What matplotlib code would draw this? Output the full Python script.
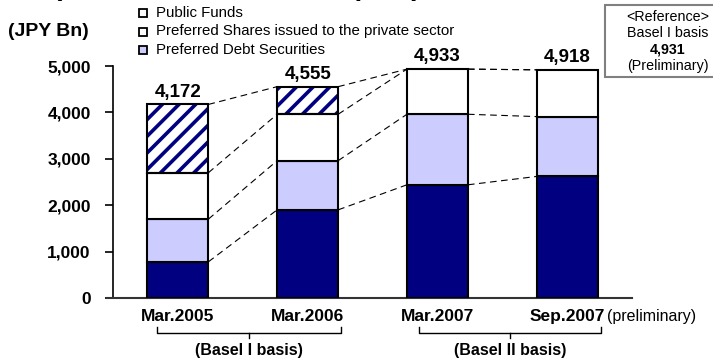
import matplotlib.pyplot as plt
import matplotlib.patches as mpatches
import numpy as np

plt.rcParams['font.family'] = ['Liberation Sans', 'DejaVu Sans']
plt.rcParams['hatch.linewidth'] = 2.6

# capital components, JPY Bn
periods = ['Mar.2005', 'Mar.2006', 'Mar.2007', 'Sep.2007']
common = [780, 1900, 2440, 2620]
pref_debt = [920, 1060, 1520, 1290]
pref_private = [1000, 1000, 973, 1008]
public_funds = [1472, 595, 0, 0]
totals = [4172, 4555, 4933, 4918]

navy = '#000080'
lavender = '#ccccff'

fig = plt.figure(figsize=(7.13, 3.58), dpi=100)
ax = fig.add_axes([0.1585, 0.1676, 0.728, 0.648])

x = np.arange(len(periods))
w = 0.47
layers = [(common, navy, None), (pref_debt, lavender, None),
          (pref_private, 'white', None), (public_funds, 'white', '//')]

bottom = np.zeros(len(periods))
levels = [bottom.copy()]
for vals, col, hatch in layers:
    vals = np.array(vals, dtype=float)
    mask = vals > 0
    if hatch:
        ax.bar(x[mask], vals[mask], w, bottom=bottom[mask], color=col,
               hatch=hatch, edgecolor=navy, linewidth=0, zorder=2)
        ax.bar(x[mask], vals[mask], w, bottom=bottom[mask], fill=False,
               edgecolor='black', linewidth=1.5, zorder=3)
    else:
        ax.bar(x[mask], vals[mask], w, bottom=bottom[mask], color=col,
               edgecolor='black', linewidth=1.5, zorder=3)
    bottom = bottom + vals
    levels.append(bottom.copy())

# dashed connectors between the segment tops of neighbouring bars
for i in range(len(periods) - 1):
    for lev in levels[1:]:
        ax.plot([x[i] + w / 2, x[i + 1] - w / 2], [lev[i], lev[i + 1]],
                color='black', lw=0.8, dashes=(6, 4), zorder=1)

for xi, t in zip(x, totals):
    ax.text(xi, t + 80, f'{t:,}', ha='center', va='bottom',
            fontsize=13.5, fontweight='bold')

ax.set_xlim(-0.5, 3.5)
ax.set_ylim(0, 5000)
ax.set_yticks(range(0, 5001, 1000))
ax.set_yticklabels([f'{v:,}' for v in range(0, 5001, 1000)],
                   fontsize=12.5, fontweight='bold')
ax.tick_params(axis='y', direction='out', length=6, width=1.2, pad=10)
ax.set_xticks(x)
ax.set_xticklabels(periods, fontsize=12.5, fontweight='bold')
ax.tick_params(axis='x', length=0, pad=8)
for s in ['top', 'right']:
    ax.spines[s].set_visible(False)
ax.spines['left'].set_linewidth(1.2)
ax.spines['bottom'].set_linewidth(1.5)
ax.spines['bottom'].set_color('#333333')
ax.spines['bottom'].set_bounds(-0.55, 3.5)

fig.text(607 / 713, 1 - 316 / 358, '(preliminary)', fontsize=11.5,
         ha='left', va='center')

# basis brackets under the axis
def bracket(x0, x1, label):
    y_top, y_mid, y_tick = 327, 333, 338
    xs = [x0, x0, x1, x1]
    ys = [y_top, y_mid, y_mid, y_top]
    fig.lines.append(plt.Line2D([v / 713 for v in xs],
                                [1 - v / 358 for v in ys],
                                transform=fig.transFigure, color='black', lw=1))
    xc = (x0 + x1) / 2
    fig.lines.append(plt.Line2D([xc / 713, xc / 713],
                                [1 - y_mid / 358, 1 - y_tick / 358],
                                transform=fig.transFigure, color='black', lw=1))
    fig.text(xc / 713, 1 - 351 / 358, label, ha='center', va='center',
             fontsize=11.5, fontweight='bold')

bracket(157, 341, '(Basel I basis)')
bracket(419, 601, '(Basel II basis)')

fig.text(8 / 713, 1 - 32 / 358, '(JPY Bn)', fontsize=14,
         fontweight='bold', ha='left', va='center')

# chart title sits mostly above the top edge
fig.text(53 / 713, 1 + 5 / 358, '(Consolidated Tier I Capital)',
         fontsize=20, fontweight='bold', ha='left', va='baseline')

# legend
legend_items = [('Public Funds', 'white'),
                ('Preferred Shares issued to the private sector', 'white'),
                ('Preferred Debt Securities', lavender)]
for k, (lab, col) in enumerate(legend_items):
    yc = 13 + k * 18.5
    fig.patches.append(mpatches.Rectangle(((143 - 4) / 713, 1 - (yc + 4) / 358),
                                          8 / 713, 8 / 358,
                                          transform=fig.transFigure,
                                          facecolor=col, edgecolor='black',
                                          lw=1.3))
    fig.text(156 / 713, 1 - yc / 358, lab, fontsize=10.8, ha='left',
             va='center')

# reference box on the right
fig.patches.append(mpatches.Rectangle((605 / 713, 1 - 77 / 358),
                                      112 / 713, 72 / 358,
                                      transform=fig.transFigure,
                                      facecolor='white', edgecolor='#808080',
                                      lw=1.5))
ref_lines = [('<Reference>', 'normal'), ('Basel I basis', 'normal'),
             ('4,931', 'bold'), ('(Preliminary)', 'normal')]
for k, (t, fw) in enumerate(ref_lines):
    fig.text(668 / 713, 1 - (17 + k * 16.3) / 358, t, fontsize=10.3,
             fontweight=fw, ha='center', va='center')

fig.savefig('out.png', dpi=100)
